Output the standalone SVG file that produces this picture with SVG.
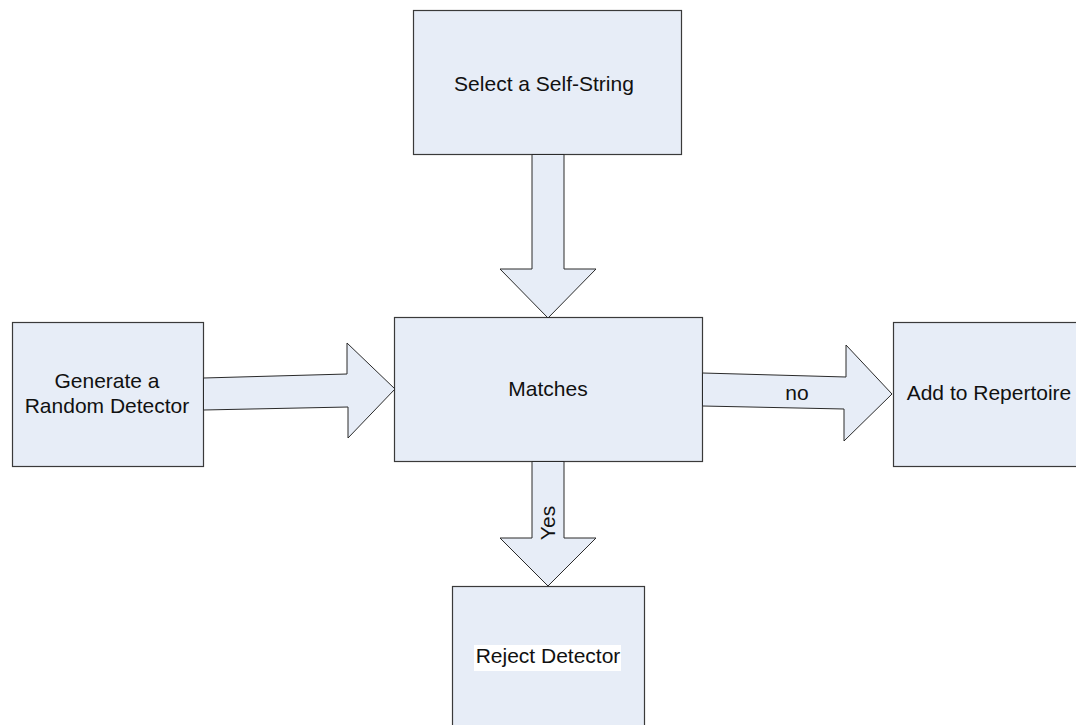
<svg xmlns="http://www.w3.org/2000/svg" width="1076" height="725" viewBox="0 0 1076 725">
<style>
.box{fill:#e7edf7;stroke:#3a3a3a;stroke-width:1.2}
.arr{fill:#e7edf7;stroke:#2a2a2a;stroke-width:1}
.t{font-family:"Liberation Sans",Arial,sans-serif;font-size:21px;fill:#111;text-anchor:middle}
</style>
<rect width="1076" height="725" fill="#ffffff"/>
<g id="select">
<rect class="box" x="413.5" y="10.5" width="268" height="144"/>
<text class="t" x="544" y="91">Select a Self-String</text>
</g>
<g id="generate">
<rect class="box" x="12.5" y="322.5" width="191" height="144"/>
<text class="t" x="107" y="388">Generate a</text>
<text class="t" x="107" y="413">Random Detector</text>
</g>
<g id="matches">
<rect class="box" x="394.5" y="317.5" width="308" height="144"/>
<text class="t" x="548" y="396">Matches</text>
</g>
<g id="add">
<rect class="box" x="893.5" y="322.5" width="190" height="144"/>
<text class="t" x="989" y="400">Add to Repertoire</text>
</g>
<g id="reject">
<rect class="box" x="452.5" y="586.5" width="192" height="150"/>
<rect x="474" y="645" width="147" height="26" fill="#ffffff"/>
<text class="t" x="548" y="663">Reject Detector</text>
</g>
<g id="connectors">
<polygon class="arr" points="532,154.5 564,154.5 564,269 596,269 548,318 500,269 532,269"/>
<polygon class="arr" points="203.5,378 347,374 347,343 395,389 348,438 348,407 203.5,410"/>
<polygon class="arr" points="702.5,373 846,377 846,345 892,394 844,441 844,409 702.5,406"/>
<text class="t" x="797" y="400">no</text>
<polygon class="arr" points="532,461.5 564,461.5 564,538 596,538 548,586 500,538 532,538"/>
<text class="t" transform="translate(555,523) rotate(-90)" x="0" y="0">Yes</text>
</g>
</svg>
